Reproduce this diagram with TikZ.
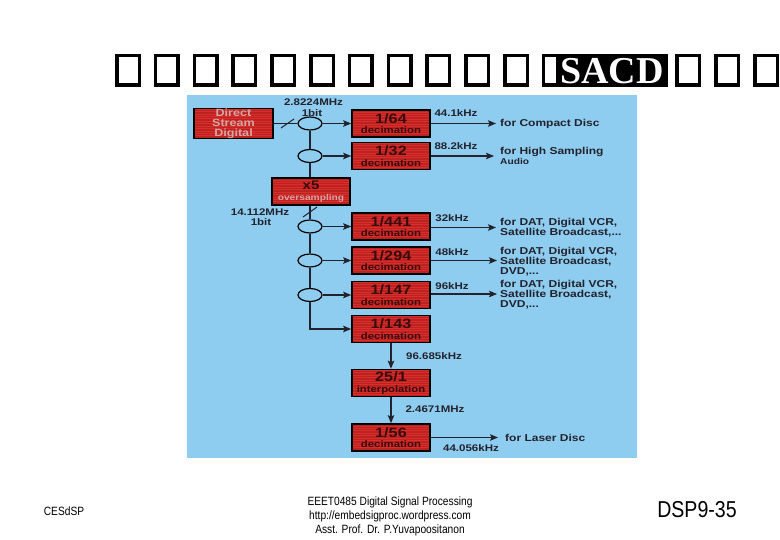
\documentclass[tikz,border=0pt]{standalone}
\usepackage{fontspec}
\setmainfont{Liberation Sans}
\newfontfamily\dfont[FakeStretch=1.2]{Liberation Sans}
\newfontfamily\ffont[FakeStretch=0.85]{Liberation Sans}
\newfontfamily\tfont{Liberation Serif}
\usetikzlibrary{arrows.meta,shapes.geometric,calc}
\newcommand\mytightlines{\lineskiplimit=-20pt\relax}
\definecolor{panel}{RGB}{142,204,240}
\definecolor{boxred}{RGB}{218,46,44}
\definecolor{boxline}{RGB}{188,34,32}
\definecolor{boxtext}{RGB}{55,12,12}
\definecolor{palered}{RGB}{212,165,165}
\definecolor{wirecol}{RGB}{35,35,45}
\tikzset{
  redbox/.style={draw=black,line width=1.6pt,fill=boxred,minimum width=78,minimum height=27,
    inner sep=0pt,align=center,text=boxtext,
    font={\dfont\bfseries\fontsize{9.5}{10.5}\selectfont\mytightlines},
    path picture={\foreach \i in {1,...,18}{\draw[boxline,line width=0.45pt]
      ($(path picture bounding box.north west)+(0,\i*1.7)$) -- ++(90,0);}}},
  junc/.style={ellipse,draw=black,line width=1.2pt,fill=panel,minimum width=24,minimum height=13,inner sep=0pt},
  wire/.style={draw=wirecol,line width=1.2pt},
  arr/.style={wire,-{Stealth[length=8pt,width=6.5pt,inset=1.5pt]}},
  freqlab/.style={font={\dfont\bfseries\fontsize{9.6}{9.6}\selectfont},inner sep=0pt,text=wirecol,align=center},
  usetext/.style={font={\dfont\bfseries\fontsize{10}{10}\selectfont\mytightlines},inner sep=0pt,align=left,anchor=west,text=wirecol},
  tbox/.style={draw=black,line width=3.5pt},
  foot/.style={font={\ffont\fontsize{12}{14}\selectfont},inner sep=0pt,align=center}
}
\begin{document}
\begin{tikzpicture}[x=1pt,y=-1pt]
\useasboundingbox (0,0) rectangle (780,540);
\fill[white] (0,0) rectangle (780,540);
% title
\foreach \k in {0,...,11}{\draw[tbox] ({116.75+38.8*\k},55.75) rectangle ++(22.5,29.5);}
\fill[black] (556,54) rectangle (668,87);
\node[inner sep=0pt,text=white,font={\tfont\bfseries\fontsize{38}{38}\selectfont}] (sacd) at (612,71.5) {SACD};
\foreach \x in {675,714,753}{\draw[tbox] ({\x+1.75},55.75) rectangle ++(22.5,29.5);}
% panel
\fill[panel] (187,95) rectangle (637,458);
% boxes
\node[redbox,minimum width=79,minimum height=29,text=palered,font={\dfont\bfseries\fontsize{10.5}{10}\selectfont\mytightlines}] (dsd) at (233.5,123.5) {Direct\\Stream\\Digital};
\node[redbox] (d64) at (391,123.5) {{\fontsize{13.5}{10.5}\selectfont 1/64}\\decimation};
\node[redbox] (d32) at (391,156) {{\fontsize{13.5}{10.5}\selectfont 1/32}\\decimation};
\node[redbox] (x5) at (311,191.5) {{\fontsize{12.5}{10.5}\selectfont x5}\\{\fontsize{8.5}{10.5}\selectfont\color{palered}oversampling}};
\node[redbox] (d441) at (391,226.5) {{\fontsize{13.5}{10.5}\selectfont 1/441}\\decimation};
\node[redbox] (d294) at (391,260.5) {{\fontsize{13.5}{10.5}\selectfont 1/294}\\decimation};
\node[redbox] (d147) at (391,295) {{\fontsize{13.5}{10.5}\selectfont 1/147}\\decimation};
\node[redbox] (d143) at (391,329) {{\fontsize{13.5}{10.5}\selectfont 1/143}\\decimation};
\node[redbox] (ip) at (391,383) {{\fontsize{13.5}{10.5}\selectfont 25/1}\\{\fontsize{9.4}{10.5}\selectfont interpolation}};
\node[redbox] (d56) at (391,437.5) {{\fontsize{13.5}{10.5}\selectfont 1/56}\\decimation};
% junctions
\node[junc] (c1) at (310,123.5) {};
\node[junc] (c2) at (310,156) {};
\node[junc] (c3) at (310,226.5) {};
\node[junc] (c4) at (310,260.5) {};
\node[junc] (c5) at (310,295) {};
% wires
\draw[wire] (dsd.east) -- (c1.west);
\draw[wire,line width=1pt] (281,128) -- (294,119);
\draw[arr] (c1.east) -- (d64.west);
\draw[wire] (c1.south) -- (c2.north);
\draw[arr] (c2.east) -- (d32.west);
\draw[wire] (c2.south) -- (c2.south |- x5.north);
\draw[wire] (c3.north |- x5.south) -- (c3.north);
\draw[wire,line width=1pt] (303,217) -- (317,207);
\draw[arr] (c3.east) -- (d441.west);
\draw[wire] (c3.south) -- (c4.north);
\draw[arr] (c4.east) -- (d294.west);
\draw[wire] (c4.south) -- (c5.north);
\draw[arr] (c5.east) -- (d147.west);
\draw[arr] (c5.south) |- (d143.west);
\draw[arr] (d143.south) -- (ip.north);
\draw[arr] (ip.south) -- (d56.north);
% outputs
\coordinate (o1) at (496,123.5);
\coordinate (o2) at (494,156);
\coordinate (o3) at (496,227.5);
\coordinate (o4) at (497,260.5);
\coordinate (o5) at (497,294);
\coordinate (o6) at (498,437.5);
\draw[arr] (d64.east) -- (o1);
\draw[arr] (d32.east) -- (o2);
\draw[arr] (d441.east |- o3) -- (o3);
\draw[arr] (d294.east) -- (o4);
\draw[arr] (d147.east |- o5) -- (o5);
\draw[arr] (d56.east) -- (o6);
% frequency labels
\node[freqlab] (f0) at (313.5,102) {2.8224MHz};
\node[freqlab] (b0) at (312,113) {1bit};
\node[freqlab] (f1) at (456,113) {44.1kHz};
\node[freqlab] (f2) at (456,146.5) {88.2kHz};
\node[freqlab] (f3) at (260,212.5) {14.112MHz};
\node[freqlab] (b3) at (261,222) {1bit};
\node[freqlab] (f4) at (452,218) {32kHz};
\node[freqlab] (f5) at (452,252.5) {48kHz};
\node[freqlab] (f6) at (452,286) {96kHz};
\node[freqlab] (f7) at (434,356) {96.685kHz};
\node[freqlab] (f8) at (435,409) {2.4671MHz};
\node[freqlab] (f9) at (471,448.5) {44.056kHz};
% usage texts
\node[usetext] (u1) at (500,123.5) {for Compact Disc};
\node[usetext] (u2) at (500,156) {for High Sampling\\{\fontsize{8.5}{10}\selectfont Audio}};
\node[usetext] (u3) at (500,227.5) {for DAT, Digital VCR,\\Satellite Broadcast,...};
\node[usetext] (u4) at (500,261.5) {for DAT, Digital VCR,\\Satellite Broadcast,\\DVD,...};
\node[usetext] (u5) at (500,295) {for DAT, Digital VCR,\\Satellite Broadcast,\\DVD,...};
\node[usetext] (u6) at (505,437.5) {for Laser Disc};
% footer
\node[foot] (fl) at (64,511) {CESdSP};
\node[foot] (fc) at (390,516) {EEET0485 Digital Signal Processing\\http://embedsigproc.wordpress.com\\Asst. Prof. Dr. P.Yuvapoositanon};
\node[foot,font={\ffont\fontsize{23}{23}\selectfont}] (fr) at (697,510) {DSP9-35};
\end{tikzpicture}
\end{document}
